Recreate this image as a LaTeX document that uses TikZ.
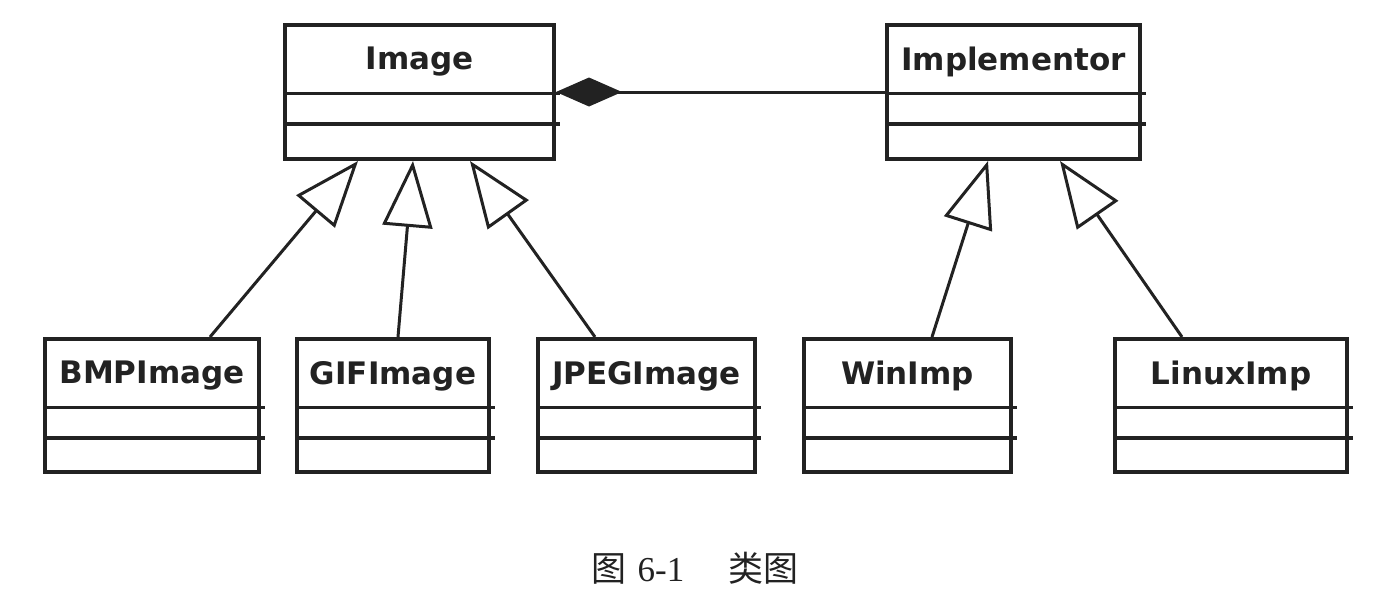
\documentclass[tikz,border=0pt]{standalone}
\usepackage{fontspec}
\setmainfont{DejaVu Sans}
\newfontfamily\cjkf{Noto Sans CJK SC}
\newfontfamily\serf{Liberation Serif}
\usetikzlibrary{arrows.meta,calc}
\definecolor{ink}{RGB}{34,34,34}
\tikzset{
  classbox/.style={draw=ink, line width=4pt, inner sep=0pt, anchor=north west, fill=white},
  classname/.style={font=\fontsize{31}{37}\selectfont\bfseries, text=ink, inner sep=0pt},
  divider/.style={draw=ink, line width=3.8pt},
  gen/.style={draw=ink, line width=3pt, line join=miter,
    -{Triangle[open, length=66pt, width=50pt, line width=3pt]}},
  comp/.style={draw=ink, line width=3pt, -{Diamond[length=66pt, width=29pt, fill=ink]}},
}
% name, x, y, width, height, text
\newcommand\umlcls[6]{%
  \node[classbox, minimum width=#4pt, minimum height=#5pt] (#1) at (#2,#3) {};
  \node[classname] (#1-t) at ($(#1.north)+(0,39)$) {#6};
  \draw[divider] ([yshift=-70.5pt]#1.north west) -- ([yshift=-70.5pt,xshift=4pt]#1.north east);
  \draw[divider] ([yshift=-101pt]#1.north west) -- ([yshift=-101pt,xshift=4pt]#1.north east);
}
\begin{document}
\begin{tikzpicture}[x=1pt, y=-1pt]
  \useasboundingbox (0,0) rectangle (1376,602);
  \umlcls{img}{283}{23}{269}{134}{Image}
  \umlcls{impl}{885}{23}{253}{134}{Implementor}
  \umlcls{bmp}{43}{337}{214}{133}{BMPImage}
  \umlcls{gif}{295}{337}{192}{133}{GIFImage}
  \umlcls{jpeg}{536}{337}{217}{133}{JPEGImage}
  \umlcls{win}{802}{337}{207}{133}{WinImp}
  \umlcls{linux}{1113}{337}{232}{133}{LinuxImp}

  \draw[comp] (impl.west) -- (img.east);

  \draw[gen] ([xshift=167pt]bmp.north west) -- ([xshift=75pt]img.south west);
  \draw[gen] ([xshift=103pt]gif.north west) -- ([xshift=130pt]img.south west);
  \draw[gen] ([xshift=59pt]jpeg.north west) -- ([xshift=187pt]img.south west);
  \draw[gen] ([xshift=130pt]win.north west) -- ([xshift=103pt]impl.south west);
  \draw[gen] ([xshift=69pt]linux.north west) -- ([xshift=175pt]impl.south west);

  \node[text=ink, inner sep=0pt] (cap) at (695,568)
    {\fontsize{35}{42}\selectfont{\cjkf 图}\hspace{11pt}{\serf 6-1}\hspace{44pt}{\cjkf 类图}};
\end{tikzpicture}
\end{document}
